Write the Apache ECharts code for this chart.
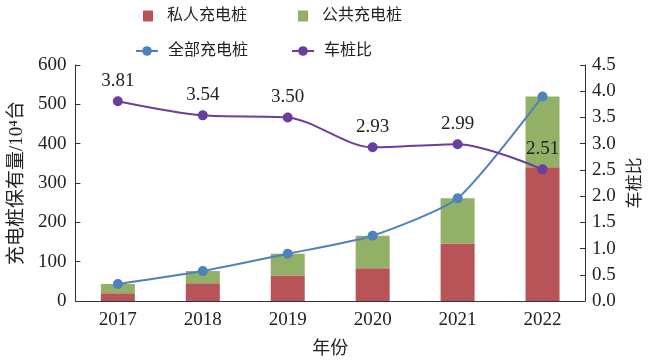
<!DOCTYPE html>
<html><head><meta charset="utf-8">
<script src="https://cdn.jsdelivr.net/npm/echarts@6/dist/echarts.min.js"></script>
<style>html,body{margin:0;padding:0;background:#fff}#c{width:652px;height:364px}</style>
</head><body><div id="c"></div>
<script>
var years = ['2017','2018','2019','2020','2021','2022'];
var privatePiles = [20, 45, 65, 83, 146, 340];
var publicPiles = [23, 31, 55, 83, 115, 180];
var totalPiles = [43, 76, 120, 166, 261, 520];
var ratio = [3.81, 3.54, 3.50, 2.93, 2.99, 2.51];

var SERIF = 'Liberation Serif, Noto Sans CJK SC, serif';
function t(size, extra){ return Object.assign({fontFamily: SERIF, fontSize: size, color: '#222'}, extra || {}); }
var chart = echarts.init(document.getElementById('c'));
chart.setOption({
  animation: false,
  grid: {left: 71, right: 67, top: 65, bottom: 63, containLabel: false},
  legend: [
    {data: ['私人充电桩','公共充电桩'], left: 138, top: 3, padding: 5, icon: 'rect', itemWidth: 10, itemHeight: 11, itemGap: 51,
     textStyle: t(16, {padding: [0,0,0,9]})},
    {data: ['全部充电桩','车桩比'], left: 130, top: 38, padding: 5, itemWidth: 22, itemHeight: 12, itemGap: 43,
     textStyle: t(16, {padding: [0,0,0,5]})}
  ],
  xAxis: {
    type: 'category', data: years,
    name: '年份', nameLocation: 'middle', nameGap: 39, nameTextStyle: t(18),
    axisLine: {lineStyle: {color: '#333', width: 1}},
    axisTick: {inside: true, length: 5, lineStyle: {color: '#333'}},
    axisLabel: t(19, {margin: 10})
  },
  yAxis: [
    {type: 'value', min: 0, max: 600, interval: 100,
     name: '充电桩保有量/10⁴台', nameLocation: 'middle', nameGap: 41, nameTextStyle: t(19),
     axisLine: {show: true, lineStyle: {color: '#333'}},
     axisTick: {show: true, inside: true, length: 5, lineStyle: {color: '#333'}},
     axisLabel: t(19, {margin: 9}),
     splitLine: {show: false}},
    {type: 'value', min: 0, max: 4.5, interval: 0.5, position: 'right',
     name: '车桩比', nameLocation: 'middle', nameGap: 40, nameTextStyle: t(17),
     axisLine: {show: true, lineStyle: {color: '#333'}},
     axisTick: {show: true, inside: true, length: 5, lineStyle: {color: '#333'}},
     axisLabel: t(19, {margin: 7, formatter: function(v){return v.toFixed(1);}}),
     splitLine: {show: false}}
  ],
  series: [
    {name: '私人充电桩', type: 'bar', stack: 's', data: privatePiles, barWidth: 34,
     itemStyle: {color: '#B85458'}},
    {name: '公共充电桩', type: 'bar', stack: 's', data: publicPiles, barWidth: 34,
     itemStyle: {color: '#93B067'}},
    {name: '全部充电桩', type: 'line', data: totalPiles, smooth: 0.2, symbol: 'circle', symbolSize: 10,
     itemStyle: {color: '#4F81BD'}, lineStyle: {color: '#4F81BD', width: 2}, z: 5},
    {name: '车桩比', type: 'line', yAxisIndex: 1, data: ratio, smooth: 0.3, symbol: 'circle', symbolSize: 10,
     itemStyle: {color: '#6A3D9E'}, lineStyle: {color: '#6A3D9E', width: 2}, z: 6,
     label: t(19, {show: true, position: 'top', distance: 6, formatter: function(p){return p.value.toFixed(2);}})}
  ]
});
</script></body></html>
